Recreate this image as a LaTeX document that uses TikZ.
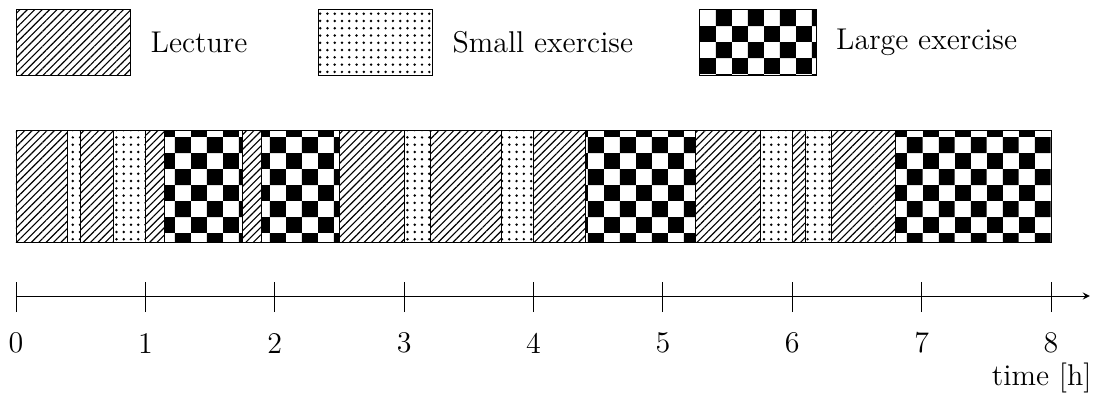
\documentclass[tikz,border=0pt]{standalone}
\usepackage{tikz}
\usetikzlibrary{patterns,patterns.meta,positioning}

% big checker tiles for the large exercises
\pgfdeclarepatternformonly{bigchecker}{\pgfpointorigin}{\pgfqpoint{14pt}{14pt}}{\pgfqpoint{14pt}{14pt}}{%
  \pgfpathrectangle{\pgfpointorigin}{\pgfqpoint{7pt}{7pt}}%
  \pgfpathrectangle{\pgfqpoint{7pt}{7pt}}{\pgfqpoint{7pt}{7pt}}%
  \pgfusepath{fill}}

\tikzset{
  lecturefill/.style={draw, pattern={Lines[angle=45,distance=2.3pt,line width=0.5pt]}},
  smallfill/.style={draw, pattern={Dots[distance=3.2pt,radius=0.6pt]}},
  largefill/.style={draw, pattern=bigchecker},
  keybox/.style={minimum width=1.76cm, minimum height=1.02cm, inner sep=0pt, anchor=north west},
}

\begin{document}
\begin{tikzpicture}[>=stealth, x=2cm, y=1cm, font=\fontsize{13.2}{16}\selectfont]
    \useasboundingbox (-0.1235,-1.484) rectangle (8.44,4.576);
    % ── Legend ──────────────────────────────────────────────────────────────
    \node[keybox, lecturefill] (lecbox) at (0,4.437) {};
    \node[right=0.18cm of lecbox] (lectxt) {Lecture};
    \node[keybox, smallfill] (smallbox) at (2.335,4.437) {};
    \node[right=0.18cm of smallbox] (smalltxt) {Small exercise};
    \node[keybox, largefill, minimum width=1.8cm] (largebox) at (5.28,4.437) {};
    \node[right=0.18cm of largebox] (largetxt) {Large exercise};
    % ── Day plan: start/end in hours ────────────────────────────────────────
    \foreach \a/\b/\s in {0/0.4/lecturefill, 0.4/0.5/smallfill, 0.5/0.75/lecturefill,
        0.75/1/smallfill, 1/1.15/lecturefill, 1.15/1.75/largefill, 1.75/1.9/lecturefill,
        1.9/2.5/largefill, 2.5/3/lecturefill, 3/3.2/smallfill, 3.2/3.75/lecturefill,
        3.75/4/smallfill, 4/4.4/lecturefill, 4.4/5.25/largefill, 5.25/5.75/lecturefill,
        5.75/6/smallfill, 6/6.1/lecturefill, 6.1/6.3/smallfill, 6.3/6.8/lecturefill,
        6.8/8/largefill}
      \draw[\s] (\a,0.835) rectangle (\b,2.566);
    % ── Time axis ───────────────────────────────────────────────────────────
    \coordinate (t0) at (0,0);
    \coordinate (tend) at (8.30,0);
    \draw[->] (t0) -- (tend);
    \foreach \h in {0,...,8} {
      \draw (\h,-0.247) -- (\h,0.216);
      \node (lbl\h) at (\h,-0.727) {\h};
    }
    \node[anchor=base east] (unit) at (8.375,-1.376) {time [h]};
  \end{tikzpicture}
\end{document}
